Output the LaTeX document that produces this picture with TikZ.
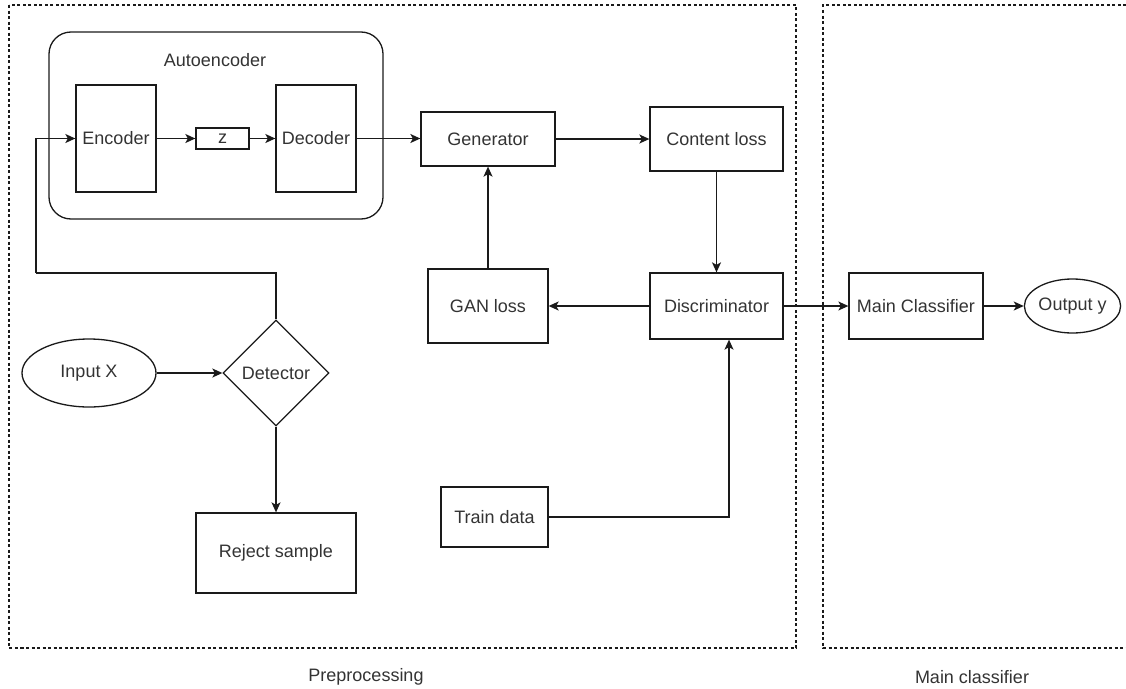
\documentclass[tikz,border=0pt]{standalone}
\usepackage{fontspec}
\setmainfont{Liberation Sans}
\usetikzlibrary{arrows.meta,shapes.geometric}
\definecolor{txt}{HTML}{333333}
\definecolor{ln}{HTML}{1A1A1A}
\begin{document}
\begin{tikzpicture}[x=1pt,y=-1pt,
  font=\fontsize{18}{22}\selectfont,
  every node/.style={text=txt},
  box/.style={draw=ln,line width=1.3pt,inner sep=0pt,align=center},
  oval/.style={draw=ln,line width=1.3pt,ellipse,inner sep=0pt},
  dia/.style={draw=ln,line width=1.3pt,diamond,inner sep=0pt},
  arr/.style={draw=ln,line width=1.3pt,-{Stealth[length=10pt,width=9pt,inset=2.5pt]}},
  ln/.style={draw=ln,line width=1.3pt},
  frame/.style={draw=ln,line width=1.1pt,dash pattern=on 3pt off 2.5pt}]
\useasboundingbox (0,0) rectangle (1126,688);
% frames
\draw[frame] (9,5) rectangle (796,648);
\draw[frame] (1126,5) -- (823,5) -- (823,648) -- (1126,648);
\node (lpre) at (366,677) {Preprocessing};
\node (lmain) at (972,677) {Main classifier};
% autoencoder container
\draw[ln,rounded corners=22pt] (49,32) rectangle (383,219);
\node (lae) at (215,60) {Autoencoder};
\node[box,minimum width=80pt,minimum height=107pt] (enc) at (116,138.5) {Encoder};
\node[box,minimum width=53pt,minimum height=21pt] (z) at (222.5,138.5) {z};
\node[box,minimum width=80pt,minimum height=107pt] (dec) at (316,138.5) {Decoder};
% GAN part
\node[box,minimum width=134pt,minimum height=54pt] (gen) at (488,139) {Generator};
\node[box,minimum width=133pt,minimum height=64pt] (cl) at (716.5,139) {Content loss};
\node[box,minimum width=120pt,minimum height=74pt] (gl) at (488,306) {GAN loss};
\node[box,minimum width=133pt,minimum height=66pt] (dis) at (716.5,306) {Discriminator};
\node[box,minimum width=107pt,minimum height=60pt] (td) at (494.5,517) {Train data};
% classifier
\node[box,minimum width=134pt,minimum height=66pt] (mc) at (916,306) {Main Classifier};
\node[oval,minimum width=81pt,minimum height=54pt] (out) at (1072.5,306) {Output y};
% input / detector
\node[oval,minimum width=134pt,minimum height=68pt] (inx) at (89,373) {Input X};
\node[dia,minimum width=106pt,minimum height=106pt] (det) at (276,373) {Detector};
\node[box,minimum width=160pt,minimum height=80pt] (rej) at (276,553) {Reject sample};
% connectors
\coordinate (c1) at (36,273);
\draw[ln] (det.north) |- (c1);
\draw[arr] (c1) |- (enc.west);
\draw[arr] (enc) -- (z);
\draw[arr] (z) -- (dec);
\draw[arr] (dec.east) -- (dec.east -| gen.west);
\draw[arr] (gen) -- (cl);
\draw[arr] (cl) -- (dis);
\draw[arr] (dis) -- (gl);
\draw[arr] (gl) -- (gen);
\draw[arr] (dis) -- (mc);
\draw[arr] (mc) -- (out);
\draw[arr] (inx) -- (det);
\draw[arr] (det) -- (rej);
\draw[arr] (td.east) -| ([xshift=12.5pt]dis.south);
\end{tikzpicture}
\end{document}
